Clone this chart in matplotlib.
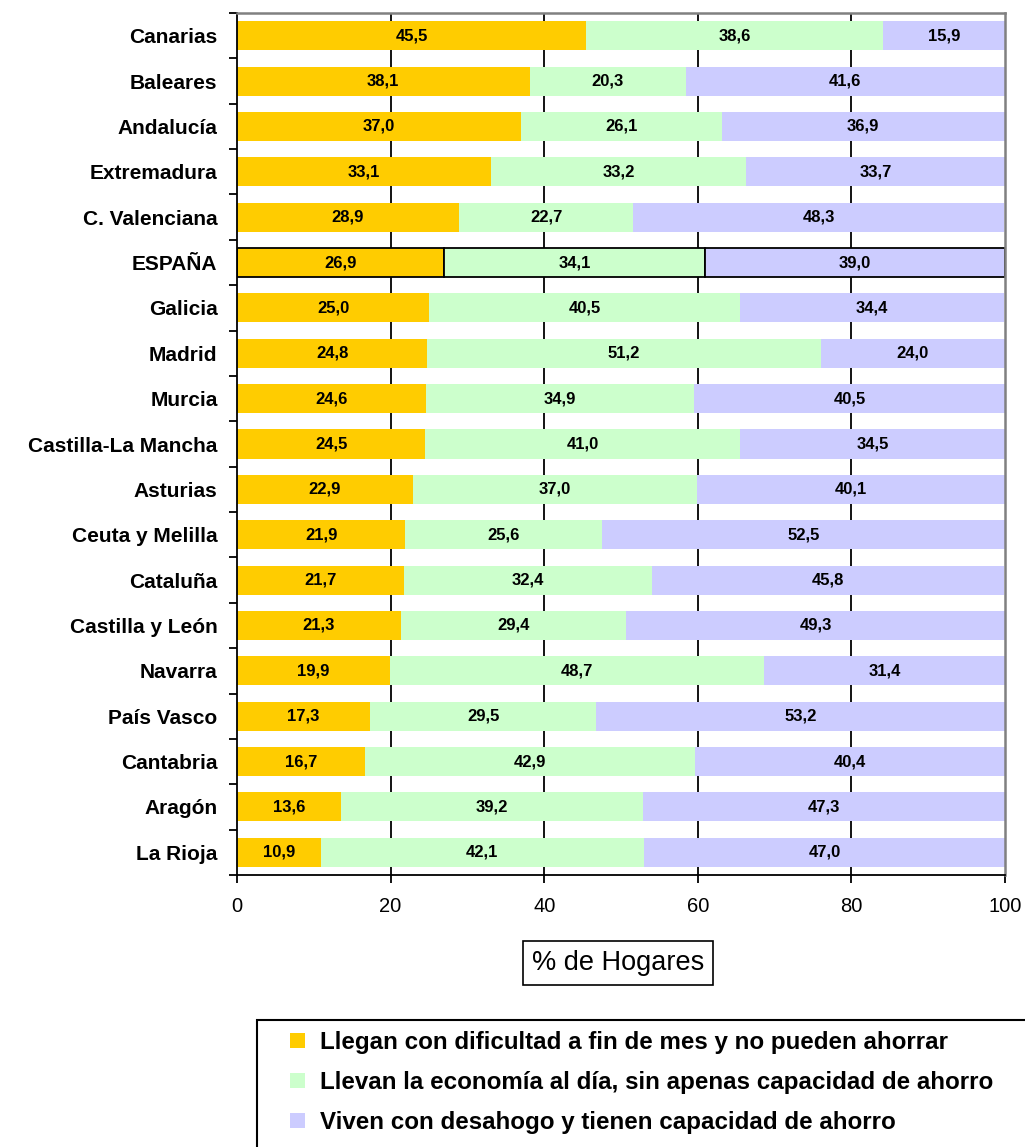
import matplotlib
matplotlib.use("Agg")
import matplotlib.pyplot as plt
from matplotlib.patches import Patch, Rectangle
import numpy as np

plt.rcParams['font.family'] = ['Liberation Sans', 'DejaVu Sans']

# datos (de arriba a abajo)
regiones = ["Canarias", "Baleares", "Andalucía", "Extremadura", "C. Valenciana",
            "ESPAÑA", "Galicia", "Madrid", "Murcia", "Castilla-La Mancha",
            "Asturias", "Ceuta y Melilla", "Cataluña", "Castilla y León",
            "Navarra", "País Vasco", "Cantabria", "Aragón", "La Rioja"]
dificultad = [45.5, 38.1, 37.0, 33.1, 28.9, 26.9, 25.0, 24.8, 24.6, 24.5,
              22.9, 21.9, 21.7, 21.3, 19.9, 17.3, 16.7, 13.6, 10.9]
al_dia = [38.6, 20.3, 26.1, 33.2, 22.7, 34.1, 40.5, 51.2, 34.9, 41.0,
          37.0, 25.6, 32.4, 29.4, 48.7, 29.5, 42.9, 39.2, 42.1]
desahogo = [15.9, 41.6, 36.9, 33.7, 48.3, 39.0, 34.4, 24.0, 40.5, 34.5,
            40.1, 52.5, 45.8, 49.3, 31.4, 53.2, 40.4, 47.3, 47.0]
series_nombres = ["Llegan con dificultad a fin de mes y no pueden ahorrar",
                  "Llevan la economía al día, sin apenas capacidad de ahorro",
                  "Viven con desahogo y tienen capacidad de ahorro"]
colores = ["#FFCC00", "#CCFFCC", "#CCCCFF"]

W, H = 1025, 1147
fig = plt.figure(figsize=(W / 100, H / 100), dpi=100)
ax = fig.add_axes([237 / W, 1 - 875 / H, 768 / W, 862 / H])

y = np.arange(len(regiones))
izq = np.zeros(len(regiones))
for vals, col in zip([dificultad, al_dia, desahogo], colores):
    vals = np.array(vals)
    bars = ax.barh(y, vals, left=izq, height=0.64, color=col, zorder=2)
    for i, b in enumerate(bars):
        if regiones[i] == "ESPAÑA":
            b.set_edgecolor("black")
            b.set_linewidth(1.3)
        ax.text(izq[i] + vals[i] / 2, y[i], f"{vals[i]:.1f}".replace(".", ","),
                ha="center", va="center", fontsize=12, fontweight="bold", zorder=3)
    izq += vals

ax.set_xlim(0, 100)
ax.set_ylim(len(regiones) - 0.5, -0.5)
ax.set_xticks([0, 20, 40, 60, 80, 100])
ax.tick_params(axis="x", labelsize=14.5, length=6, width=1.3, pad=10)
ax.set_yticks(y)
ax.set_yticklabels(regiones, fontsize=15, fontweight="bold")
ax.tick_params(axis="y", length=0, pad=14)
ax.set_yticks(np.arange(len(regiones) + 1) - 0.5, minor=True)
ax.tick_params(axis="y", which="minor", length=6, width=1.3)
for xv in [20, 40, 60, 80]:
    ax.axvline(xv, color="black", lw=1.3, zorder=1)
ax.spines["left"].set_linewidth(1.3)
ax.spines["bottom"].set_linewidth(1.3)
for s in ["top", "right"]:
    ax.spines[s].set_color("#808080")
    ax.spines[s].set_linewidth(1.8)

fig.text(618 / W, 1 - 963 / H, "% de Hogares", ha="center", va="center", fontsize=19.5,
         bbox=dict(boxstyle="square,pad=0.33", fc="white", ec="black", lw=1.2))

# leyenda: marco recortado por el borde de la figura
fig.patches.append(Rectangle((257 / W, -0.05), 0.8, 1 - 1020 / H + 0.05,
                             transform=fig.transFigure, fc="white", ec="black", lw=1.5))
handles = [Patch(facecolor=c, edgecolor="none") for c in colores]
fig.legend(handles, series_nombres, loc="upper left",
           bbox_to_anchor=(290 / W, 1 - 1031 / H), frameon=False,
           prop={"weight": "bold", "size": 17.4}, borderpad=0, borderaxespad=0,
           handlelength=0.6, handleheight=0.6, handletextpad=0.66,
           labelspacing=0.7)

fig.savefig("out.png", dpi=100)
